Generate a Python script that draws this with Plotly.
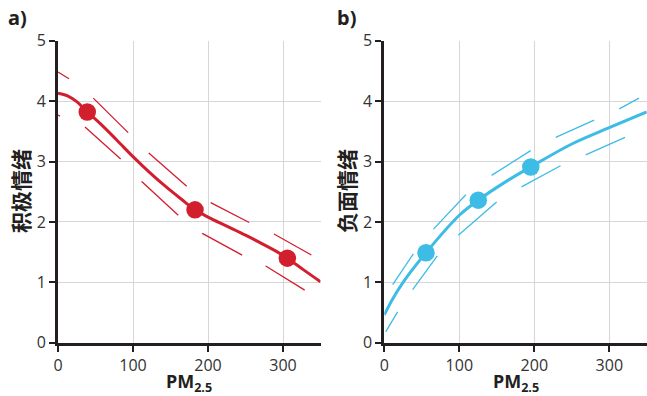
import plotly.graph_objects as go

# ---------------- data ----------------
# Panel a: positive emotion vs PM2.5
pos_curve_x = [0, 14, 25, 39, 56, 78, 100, 122, 145, 165, 182.7, 200, 225, 250, 275, 290, 305.8, 327, 350]
pos_curve_y = [4.13, 4.08, 3.99, 3.82, 3.63, 3.36, 3.08, 2.82, 2.57, 2.37, 2.20, 2.08, 1.93, 1.78, 1.62, 1.52, 1.40, 1.21, 1.01]
pos_pts_x = [39, 182.7, 305.8]
pos_pts_y = [3.82, 2.20, 1.40]
pos_up_x = [0, 14.7, 47, 93.7, 121, 171.6, 203.6, 255, 288, 338]
pos_up_y = [4.48, 4.37, 4.05, 3.48, 3.14, 2.59, 2.32, 1.99, 1.80, 1.45]
pos_lo_x = [0, 2.7, 36, 83.6, 111.6, 160.4, 192.4, 245.7, 277, 329]
pos_lo_y = [3.77, 3.75, 3.57, 3.04, 2.67, 2.11, 1.81, 1.45, 1.27, 0.87]

# Panel b: negative emotion vs PM2.5
neg_curve_x = [0, 10, 25, 55.6, 100, 125.3, 160, 195.3, 250, 300, 350]
neg_curve_y = [0.46, 0.70, 1.00, 1.49, 2.11, 2.36, 2.65, 2.91, 3.29, 3.56, 3.82]
neg_pts_x = [55.6, 125.3, 195.3]
neg_pts_y = [1.49, 2.36, 2.91]
neg_up_x = [11.2, 38.7, 65.5, 108.7, 143, 195, 228.5, 279.6, 313.3, 339.6]
neg_up_y = [0.96, 1.47, 1.88, 2.45, 2.77, 3.18, 3.40, 3.69, 3.87, 4.05]
neg_lo_x = [1.8, 17.8, 37.8, 70.7, 98.7, 149.8, 183, 235, 268.5, 321]
neg_lo_y = [0.18, 0.51, 0.88, 1.44, 1.78, 2.33, 2.58, 2.93, 3.11, 3.40]

x_ticks = [0, 100, 200, 300]
y_ticks = [0, 1, 2, 3, 4, 5]
panel_labels = ["a)", "b)"]
y_titles = ["积极情绪", "负面情绪"]
x_title = "PM<sub>2.5</sub>"

RED = "#d21f2e"
BLUE = "#3dbce6"
W, H = 647, 396

fig = go.Figure()


def add_panel(xa, ya, cx, cy, px, py, ux, uy, lx, ly, color, up_dash, lo_dash):
    fig.add_trace(go.Scatter(x=ux, y=uy, mode="lines", xaxis=xa, yaxis=ya,
                             line=dict(color=color, width=1.3, dash=up_dash),
                             showlegend=False, hoverinfo="skip"))
    fig.add_trace(go.Scatter(x=lx, y=ly, mode="lines", xaxis=xa, yaxis=ya,
                             line=dict(color=color, width=1.3, dash=lo_dash),
                             showlegend=False, hoverinfo="skip"))
    fig.add_trace(go.Scatter(x=cx, y=cy, mode="lines", xaxis=xa, yaxis=ya,
                             line=dict(color=color, width=3, shape="spline", smoothing=1.0),
                             showlegend=False))
    fig.add_trace(go.Scatter(x=px, y=py, mode="markers", xaxis=xa, yaxis=ya,
                             marker=dict(color=color, size=17.5, line=dict(width=0)),
                             showlegend=False))


add_panel("x", "y", pos_curve_x, pos_curve_y, pos_pts_x, pos_pts_y,
          pos_up_x, pos_up_y, pos_lo_x, pos_lo_y, RED,
          "12.8px,31.1px,49.1px,29px,50.4px,29px,43.4px,27.2px,43px,200px",
          "2.3px,27.3px,47.9px,30.6px,49.9px,30px,45.5px,25.9px,45.9px,200px")
add_panel("x2", "y2", neg_curve_x, neg_curve_y, neg_pts_x, neg_pts_y,
          neg_up_x, neg_up_y, neg_lo_x, neg_lo_y, BLUE,
          "37.1px,31.9px,47.3px,32.2px,46.2px,28.4px,42.1px,27.5px,22.5px,200px",
          "23.2px,27px,41.8px,29.4px,50.7px,29.1px,44.4px,27.4px,43.1px,200px")

axis_common = dict(
    showgrid=True, gridcolor="#d6d6d6", gridwidth=1,
    showline=True, linecolor="#231f20", linewidth=3,
    ticks="outside", ticklen=6, tickwidth=1.5, tickcolor="#231f20",
    tickfont=dict(family="Open Sans, Noto Sans, sans-serif", size=16, color="#333333"),
    zeroline=False, fixedrange=True, automargin=False,
)

ydom = [(H - 342.7) / H, (H - 40.7) / H]
fig.update_layout(
    width=W, height=H,
    margin=dict(l=0, r=0, t=0, b=0, autoexpand=False),
    plot_bgcolor="white", paper_bgcolor="white",
    xaxis=dict(domain=[58 / W, 320.5 / W], range=[0, 350], tickvals=x_ticks, anchor="y", **axis_common),
    yaxis=dict(domain=ydom, range=[0, 5], tickvals=y_ticks, anchor="x", **axis_common),
    xaxis2=dict(domain=[384.3 / W, 646.8 / W], range=[0, 350], tickvals=x_ticks, anchor="y2", **axis_common),
    yaxis2=dict(domain=ydom, range=[0, 5], tickvals=y_ticks, anchor="x2", **axis_common),
)

annos = []
for lab, xc in zip(panel_labels, [17, 346]):
    annos.append(dict(text=f"<b>{lab}</b>", x=xc / W, y=1 - 17 / H, xref="paper", yref="paper",
                      xanchor="center", yanchor="middle", showarrow=False,
                      font=dict(family="Noto Sans, sans-serif", size=20, color="#231f20")))
for t, xc in zip(y_titles, [20, 346]):
    annos.append(dict(text=f"<b>{t}</b>", x=xc / W, y=(H - 191) / H, xref="paper", yref="paper",
                      xanchor="center", yanchor="middle", showarrow=False, textangle=-90,
                      font=dict(family="Noto Sans CJK SC, sans-serif", size=21, color="#231f20")))
for xc in [189, 516]:
    annos.append(dict(text=f"<b>{x_title}</b>", x=xc / W, y=(H - 382) / H, xref="paper", yref="paper",
                      xanchor="center", yanchor="middle", showarrow=False,
                      font=dict(family="Noto Sans, sans-serif", size=18, color="#231f20")))
fig.update_layout(annotations=annos)

fig.write_html("out.html", config={"displayModeBar": False},
               post_script="document.body.style.margin='0px';document.body.style.overflow='hidden';")
